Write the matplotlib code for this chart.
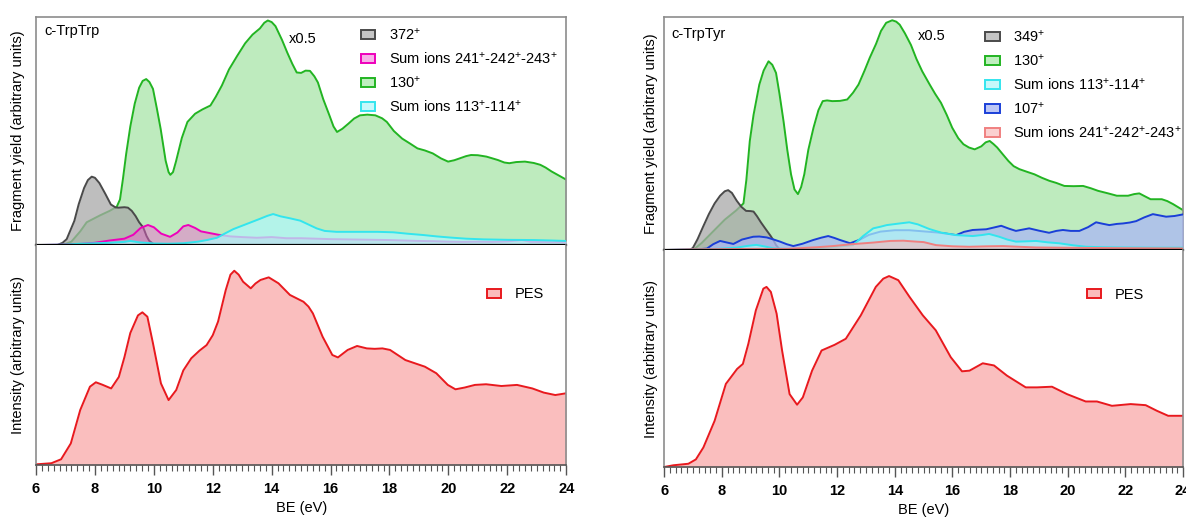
import matplotlib
matplotlib.use('Agg')
import matplotlib.pyplot as plt
from matplotlib.patches import Patch

plt.rcParams['font.family'] = ['Liberation Sans', 'DejaVu Sans']
plt.rcParams['mathtext.default'] = 'regular'

# ---- c-TrpTrp, fragment yields (top left) ----
trp_130_x = [6.0, 6.9, 7.2, 7.5, 7.72, 8.17, 8.5, 8.74, 8.85, 8.95, 9.06, 9.2, 9.35, 9.5, 9.62,
             9.74, 9.85, 9.97, 10.1, 10.23, 10.4, 10.5, 10.56, 10.65, 10.75, 10.95, 11.14, 11.4,
             11.65, 11.92, 12.1, 12.31, 12.55, 12.83, 13.1, 13.35, 13.6, 13.75, 13.87, 14.0, 14.13,
             14.35, 14.53, 14.7, 14.85, 15.0, 15.15, 15.3, 15.45, 15.57, 15.75, 15.96, 16.1, 16.22,
             16.4, 16.61, 16.8, 17.0, 17.25, 17.52, 17.75, 17.91, 18.15, 18.43, 18.7, 18.95, 19.2,
             19.47, 19.75, 19.99, 20.2, 20.38, 20.6, 20.77, 21.0, 21.29, 21.5, 21.68, 21.9, 22.07,
             22.3, 22.6, 22.9, 23.12, 23.3, 23.5, 23.75, 24.0]
trp_130_y = [0, 0, 0.015, 0.06, 0.10, 0.13, 0.15, 0.168, 0.20, 0.29, 0.40, 0.52, 0.62, 0.69, 0.72,
             0.728, 0.715, 0.685, 0.60, 0.51, 0.37, 0.32, 0.308, 0.32, 0.366, 0.47, 0.54, 0.576,
             0.595, 0.612, 0.65, 0.70, 0.77, 0.83, 0.885, 0.923, 0.95, 0.975, 0.985, 0.978, 0.96,
             0.90, 0.844, 0.795, 0.757, 0.755, 0.765, 0.764, 0.74, 0.713, 0.64, 0.569, 0.52, 0.496,
             0.51, 0.533, 0.555, 0.569, 0.572, 0.569, 0.556, 0.54, 0.50, 0.467, 0.445, 0.424, 0.415,
             0.402, 0.38, 0.366, 0.372, 0.38, 0.39, 0.395, 0.394, 0.388, 0.38, 0.373, 0.362, 0.359,
             0.364, 0.366, 0.36, 0.352, 0.34, 0.323, 0.305, 0.287]

trp_372_x = [6.0, 6.72, 6.9, 7.04, 7.15, 7.3, 7.45, 7.63, 7.76, 7.89, 8.0, 8.15, 8.35, 8.54, 8.7,
             8.8, 9.0, 9.12, 9.25, 9.38, 9.5, 9.64, 9.75, 9.84, 10.0, 10.2]
trp_372_y = [0, 0, 0.01, 0.026, 0.06, 0.106, 0.18, 0.25, 0.285, 0.30, 0.295, 0.272, 0.225, 0.178,
             0.165, 0.164, 0.166, 0.164, 0.15, 0.127, 0.10, 0.077, 0.04, 0.019, 0.003, 0]

trp_241_x = [6.0, 7.0, 7.5, 8.0, 8.5, 9.0, 9.3, 9.55, 9.8, 10.0, 10.25, 10.55, 10.8, 11.0, 11.17,
             11.4, 11.6, 11.8, 12.2, 12.6, 13.0, 13.5, 14.0, 14.5, 15.0, 15.5, 16.0, 16.5, 17.0,
             17.5, 18.0, 18.5, 19.0, 19.5, 20.0, 20.5, 21.0, 21.5, 22.0, 22.5, 22.8, 23.5, 24.0]
trp_241_y = [0, 0.002, 0.005, 0.01, 0.02, 0.028, 0.045, 0.075, 0.088, 0.078, 0.05, 0.036, 0.055,
             0.082, 0.088, 0.075, 0.06, 0.055, 0.045, 0.038, 0.035, 0.032, 0.035, 0.03, 0.03,
             0.028, 0.026, 0.025, 0.024, 0.023, 0.022, 0.02, 0.018, 0.017, 0.015, 0.014, 0.015,
             0.014, 0.016, 0.022, 0.014, 0.013, 0.012]

trp_113_x = [6.0, 7.0, 7.5, 8.0, 8.5, 9.0, 9.2, 9.5, 10.0, 10.5, 11.0, 11.5, 11.8, 12.14, 12.4,
             12.7, 13.0, 13.3, 13.6, 13.85, 14.05, 14.3, 14.6, 14.97, 15.25, 15.53, 15.8, 16.2,
             17.0, 17.6, 18.13, 18.6, 19.15, 19.6, 20.06, 20.6, 21.2, 22.0, 22.9, 23.5, 24.0]
trp_113_y = [0, 0.002, 0.006, 0.008, 0.01, 0.014, 0.018, 0.012, 0.007, 0.006, 0.008, 0.015, 0.022,
             0.032, 0.05, 0.07, 0.085, 0.10, 0.115, 0.128, 0.136, 0.126, 0.118, 0.107, 0.09, 0.073,
             0.062, 0.058, 0.058, 0.058, 0.056, 0.05, 0.044, 0.038, 0.033, 0.028, 0.025, 0.023,
             0.022, 0.02, 0.018]

# ---- c-TrpTrp, photoelectron spectrum (bottom left) ----
trp_pes_x = [6.0, 6.52, 6.85, 7.18, 7.5, 7.83, 8.03, 8.25, 8.55, 8.81, 9.0, 9.2, 9.46, 9.61, 9.78,
             9.97, 10.24, 10.5, 10.76, 11.0, 11.27, 11.55, 11.79, 12.0, 12.18, 12.44, 12.6, 12.73,
             12.88, 13.03, 13.29, 13.45, 13.62, 13.9, 14.23, 14.62, 15.08, 15.25, 15.4, 15.73,
             16.06, 16.25, 16.58, 16.9, 17.23, 17.5, 17.76, 18.02, 18.54, 19.2, 19.59, 19.98,
             20.24, 20.55, 20.9, 21.28, 21.8, 22.33, 22.85, 23.24, 23.63, 24.0]
trp_pes_y = [0.003, 0.008, 0.026, 0.098, 0.25, 0.356, 0.376, 0.365, 0.348, 0.40, 0.49, 0.60, 0.68,
             0.694, 0.674, 0.553, 0.371, 0.295, 0.341, 0.43, 0.485, 0.52, 0.545, 0.59, 0.652,
             0.795, 0.865, 0.883, 0.865, 0.833, 0.803, 0.825, 0.841, 0.853, 0.826, 0.773, 0.742,
             0.72, 0.689, 0.583, 0.50, 0.489, 0.523, 0.541, 0.53, 0.528, 0.53, 0.523, 0.477, 0.447,
             0.417, 0.364, 0.344, 0.352, 0.364, 0.367, 0.359, 0.364, 0.348, 0.329, 0.318, 0.326]

# ---- c-TrpTyr, fragment yields (top right) ----
tyr_130_x = [6.0, 7.0, 7.3, 7.7, 8.1, 8.5, 8.75, 8.85, 8.97, 9.1, 9.3, 9.45, 9.62, 9.75, 9.88,
             10.0, 10.14, 10.27, 10.4, 10.52, 10.64, 10.75, 10.86, 11.0, 11.18, 11.35, 11.5, 11.65,
             11.83, 12.1, 12.35, 12.55, 12.74, 12.95, 13.13, 13.35, 13.52, 13.7, 13.91, 14.05,
             14.17, 14.35, 14.56, 14.75, 14.95, 15.21, 15.4, 15.6, 15.8, 15.99, 16.2, 16.38, 16.57,
             16.77, 17.0, 17.15, 17.29, 17.42, 17.55, 17.75, 17.94, 18.12, 18.32, 18.6, 18.84,
             19.1, 19.36, 19.6, 19.88, 20.2, 20.53, 20.8, 21.05, 21.4, 21.7, 22.09, 22.3, 22.48,
             22.65, 22.87, 23.26, 23.45, 23.65, 23.85, 24.0]
tyr_130_y = [0, 0, 0.03, 0.08, 0.13, 0.17, 0.20, 0.30, 0.468, 0.58, 0.71, 0.77, 0.81, 0.795, 0.76,
             0.67, 0.553, 0.43, 0.325, 0.26, 0.24, 0.27, 0.325, 0.43, 0.525, 0.60, 0.639, 0.642,
             0.639, 0.64, 0.646, 0.675, 0.71, 0.77, 0.825, 0.885, 0.94, 0.975, 0.986, 0.98, 0.967,
             0.93, 0.88, 0.82, 0.767, 0.71, 0.67, 0.632, 0.58, 0.525, 0.48, 0.454, 0.44, 0.432,
             0.445, 0.462, 0.468, 0.455, 0.44, 0.41, 0.382, 0.36, 0.347, 0.335, 0.325, 0.31, 0.297,
             0.288, 0.275, 0.274, 0.275, 0.265, 0.254, 0.243, 0.233, 0.233, 0.24, 0.243, 0.232,
             0.218, 0.218, 0.21, 0.197, 0.182, 0.171]

tyr_349_x = [6.0, 6.9, 7.0, 7.16, 7.35, 7.55, 7.75, 7.94, 8.1, 8.22, 8.35, 8.52, 8.68, 8.84, 9.0,
             9.1, 9.22, 9.36, 9.52, 9.69, 9.8, 9.88, 10.0, 10.1]
tyr_349_y = [0, 0, 0.01, 0.047, 0.10, 0.154, 0.20, 0.233, 0.252, 0.257, 0.245, 0.211, 0.185,
             0.168, 0.167, 0.165, 0.145, 0.118, 0.09, 0.061, 0.04, 0.021, 0.004, 0]

tyr_113_x = [6.0, 7.0, 7.5, 8.0, 8.5, 8.9, 9.2, 9.5, 9.8, 10.2, 10.5, 11.0, 11.5, 12.0, 12.55,
             12.9, 13.25, 13.5, 13.72, 14.1, 14.5, 14.8, 15.2, 15.6, 16.13, 16.4, 16.7, 17.0,
             17.27, 17.62, 17.9, 18.2, 18.5, 18.9, 19.3, 19.7, 20.2, 20.64, 21.2, 21.8, 23.0, 24.0]
tyr_113_y = [0, 0.002, 0.004, 0.006, 0.01, 0.018, 0.022, 0.015, 0.007, 0.005, 0.004, 0.006, 0.01,
             0.014, 0.021, 0.06, 0.093, 0.10, 0.107, 0.113, 0.119, 0.11, 0.09, 0.075, 0.064, 0.062,
             0.06, 0.064, 0.069, 0.057, 0.045, 0.036, 0.037, 0.039, 0.033, 0.029, 0.02, 0.014,
             0.012, 0.011, 0.01, 0.01]

tyr_107_x = [6.0, 7.0, 7.48, 7.7, 7.94, 8.15, 8.4, 8.7, 9.09, 9.3, 9.56, 9.8, 10.02, 10.25, 10.48,
             10.8, 11.17, 11.45, 11.69, 11.9, 12.1, 12.45, 12.8, 13.1, 13.5, 14.0, 14.5, 15.0,
             15.5, 15.8, 16.13, 16.4, 16.7, 17.17, 17.45, 17.69, 17.95, 18.2, 18.45, 18.66, 19.0,
             19.35, 19.6, 19.83, 20.1, 20.4, 20.7, 20.98, 21.2, 21.44, 21.7, 21.91, 22.15, 22.37,
             22.65, 22.95, 23.2, 23.41, 23.7, 24.0]
tyr_107_y = [0, 0.002, 0.006, 0.025, 0.039, 0.033, 0.026, 0.045, 0.057, 0.058, 0.054, 0.045,
             0.036, 0.025, 0.017, 0.027, 0.043, 0.053, 0.06, 0.052, 0.043, 0.029, 0.045, 0.065,
             0.079, 0.085, 0.085, 0.08, 0.075, 0.07, 0.064, 0.078, 0.086, 0.089, 0.097, 0.104,
             0.092, 0.082, 0.088, 0.093, 0.083, 0.074, 0.082, 0.086, 0.082, 0.082, 0.098, 0.119,
             0.113, 0.107, 0.112, 0.114, 0.118, 0.124, 0.14, 0.154, 0.148, 0.143, 0.146, 0.153]

tyr_241_x = [6.0, 7.0, 8.0, 9.0, 10.26, 10.7, 11.3, 11.86, 12.5, 13.25, 13.84, 14.3, 14.74, 15.0,
             15.43, 16.0, 16.58, 17.2, 17.75, 18.3, 18.9, 19.8, 20.64, 22.0, 24.0]
tyr_241_y = [0, 0.003, 0.004, 0.005, 0.005, 0.008, 0.012, 0.017, 0.025, 0.032, 0.039, 0.04, 0.036,
             0.034, 0.021, 0.016, 0.014, 0.016, 0.017, 0.014, 0.011, 0.01, 0.009, 0.008, 0.007]

# ---- c-TrpTyr, photoelectron spectrum (bottom right) ----
tyr_pes_x = [6.0, 6.32, 6.84, 7.1, 7.36, 7.75, 8.14, 8.53, 8.73, 8.92, 9.18, 9.44, 9.55, 9.7, 9.9,
             10.09, 10.35, 10.61, 10.81, 11.13, 11.46, 11.91, 12.3, 12.82, 13.34, 13.6, 13.8,
             14.12, 14.51, 14.97, 15.42, 15.94, 16.33, 16.59, 17.05, 17.44, 17.89, 18.54, 18.93,
             19.45, 19.97, 20.62, 21.01, 21.53, 22.18, 22.7, 23.09, 23.48, 24.0]
tyr_pes_y = [0.0, 0.008, 0.015, 0.035, 0.09, 0.213, 0.383, 0.452, 0.475, 0.568, 0.722, 0.822, 0.83,
             0.807, 0.707, 0.537, 0.336, 0.287, 0.321, 0.444, 0.537, 0.563, 0.591, 0.699, 0.83,
             0.868, 0.88, 0.861, 0.784, 0.699, 0.63, 0.506, 0.441, 0.444, 0.478, 0.468, 0.421,
             0.367, 0.367, 0.37, 0.336, 0.302, 0.302, 0.282, 0.29, 0.285, 0.259, 0.236, 0.236]

# colours: (line, fill)
c_130 = ('#22b422', '#7ed97e')
c_grey = ('#4a4a4a', '#a8a8a8')
c_mag = ('#ee00bb', '#f060d0')
c_cyan = ('#33e5ee', '#b0f6f8')
c_blue = ('#1a3fd8', '#aab8f5')
c_salm = ('#f08080', '#f8b8b8')
c_pes = ('#e8191e', '#f77f7f')
frame_col = '#8c8c8c'


def area(ax, x, y, col, alpha, z):
    # fill + outline, stacked by z so later series cover earlier ones
    ax.fill_between(x, 0, y, color=col[1], alpha=alpha, lw=0, zorder=z)
    ax.plot(x, y, color=col[0], lw=1.4, zorder=z + 0.5)


def top_panel(ax):
    ax.set_xlim(6, 24)
    ax.set_ylim(0, 1)
    ax.set_xticks([])
    ax.set_yticks([])
    for s in ['left', 'top', 'right']:
        ax.spines[s].set_color(frame_col)
        ax.spines[s].set_linewidth(1.2)
    ax.spines['bottom'].set_color('black')
    ax.spines['bottom'].set_linewidth(1.6)
    ax.spines['bottom'].set_zorder(20)
    ax.set_ylabel('Fragment yield (arbitrary units)', fontsize=10.5)


def bottom_panel(ax, x, y, leg_x, leg_y):
    ax.set_xlim(6, 24)
    ax.set_ylim(0, 1)
    ax.set_yticks([])
    ax.spines['top'].set_visible(False)
    for s in ['left', 'right']:
        ax.spines[s].set_color(frame_col)
        ax.spines[s].set_linewidth(1.2)
    ax.spines['bottom'].set_color('#555555')
    ax.spines['bottom'].set_linewidth(1.2)
    ax.set_xticks(range(6, 25, 2))
    ax.set_xticks([6 + 0.2 * i for i in range(91)], minor=True)
    ax.tick_params(axis='x', which='major', length=7, width=1.0, color='#555555', pad=5,
                   labelsize=10.5)
    ax.tick_params(axis='x', which='minor', length=4.5, width=0.8, color='#555555')
    for t in ax.get_xticklabels():
        t.set_fontweight('bold')
    ax.set_xlabel('BE (eV)', fontsize=10.5, labelpad=4)
    ax.set_ylabel('Intensity (arbitrary units)', fontsize=10.5)
    area(ax, x, y, c_pes, 0.5, 2)
    ax.legend(handles=[Patch(facecolor='#fbbcbc', edgecolor=c_pes[0], lw=1.4, label='PES')],
              loc='upper left', bbox_to_anchor=(leg_x, leg_y), frameon=False, fontsize=10.5,
              handlelength=1.0, handleheight=0.6, handletextpad=0.9, borderpad=0)


fig = plt.figure(figsize=(11.86, 5.17), dpi=100)
ax_tl = fig.add_axes([0.0304, 0.526, 0.447, 0.441])
ax_bl = fig.add_axes([0.0304, 0.1006, 0.447, 0.4255])
ax_tr = fig.add_axes([0.560, 0.5164, 0.4376, 0.4507])
ax_br = fig.add_axes([0.560, 0.0967, 0.4376, 0.4197])

# top left
ax = ax_tl
top_panel(ax)
area(ax, trp_130_x, trp_130_y, c_130, 0.5, 2)
area(ax, trp_372_x, trp_372_y, c_grey, 0.75, 3)
area(ax, trp_241_x, trp_241_y, c_mag, 0.45, 4)
area(ax, trp_113_x, trp_113_y, c_cyan, 0.75, 5)
ax.text(0.015, 0.94, 'c-TrpTrp', transform=ax.transAxes, fontsize=10.5, va='center')
ax.text(0.477, 0.905, 'x0.5', transform=ax.transAxes, fontsize=10.5, va='center')
h = [Patch(facecolor='#c5c5c5', edgecolor=c_grey[0], lw=1.4, label='372$^{+}$'),
     Patch(facecolor='#f7b0e8', edgecolor=c_mag[0], lw=1.4, label='Sum ions 241$^{+}$-242$^{+}$-243$^{+}$'),
     Patch(facecolor='#beeebe', edgecolor=c_130[0], lw=1.4, label='130$^{+}$'),
     Patch(facecolor='#c6f8fa', edgecolor=c_cyan[0], lw=1.4, label='Sum ions 113$^{+}$-114$^{+}$')]
ax.legend(handles=h, loc='upper left', bbox_to_anchor=(0.599, 0.99), frameon=False, fontsize=10.5,
          handlelength=1.0, handleheight=0.6, handletextpad=0.9, labelspacing=0.55, borderpad=0)

# top right
ax = ax_tr
top_panel(ax)
area(ax, tyr_130_x, tyr_130_y, c_130, 0.5, 2)
area(ax, tyr_349_x, tyr_349_y, c_grey, 0.75, 3)
area(ax, tyr_107_x, tyr_107_y, c_blue, 0.75, 4)
area(ax, tyr_113_x, tyr_113_y, c_cyan, 0.7, 5)
area(ax, tyr_241_x, tyr_241_y, c_salm, 0.6, 6)
ax.text(0.0135, 0.927, 'c-TrpTyr', transform=ax.transAxes, fontsize=10.5, va='center')
ax.text(0.489, 0.918, 'x0.5', transform=ax.transAxes, fontsize=10.5, va='center')
h = [Patch(facecolor='#c5c5c5', edgecolor=c_grey[0], lw=1.4, label='349$^{+}$'),
     Patch(facecolor='#beeebe', edgecolor=c_130[0], lw=1.4, label='130$^{+}$'),
     Patch(facecolor='#c6f8fa', edgecolor=c_cyan[0], lw=1.4, label='Sum ions 113$^{+}$-114$^{+}$'),
     Patch(facecolor='#bcc6f5', edgecolor=c_blue[0], lw=1.4, label='107$^{+}$'),
     Patch(facecolor='#fbd0d0', edgecolor=c_salm[0], lw=1.4, label='Sum ions 241$^{+}$-242$^{+}$-243$^{+}$')]
ax.legend(handles=h, loc='upper left', bbox_to_anchor=(0.604, 0.982), frameon=False, fontsize=10.5,
          handlelength=1.0, handleheight=0.6, handletextpad=0.9, labelspacing=0.55, borderpad=0)

bottom_panel(ax_bl, trp_pes_x, trp_pes_y, 0.836, 0.84)
bottom_panel(ax_br, tyr_pes_x, tyr_pes_y, 0.80, 0.86)

for a in [ax_tl, ax_bl]:
    a.yaxis.set_label_coords(-0.021, 0.5)
for a in [ax_tr, ax_br]:
    a.yaxis.set_label_coords(-0.012, 0.5)

fig.savefig('out.png', dpi=100)
